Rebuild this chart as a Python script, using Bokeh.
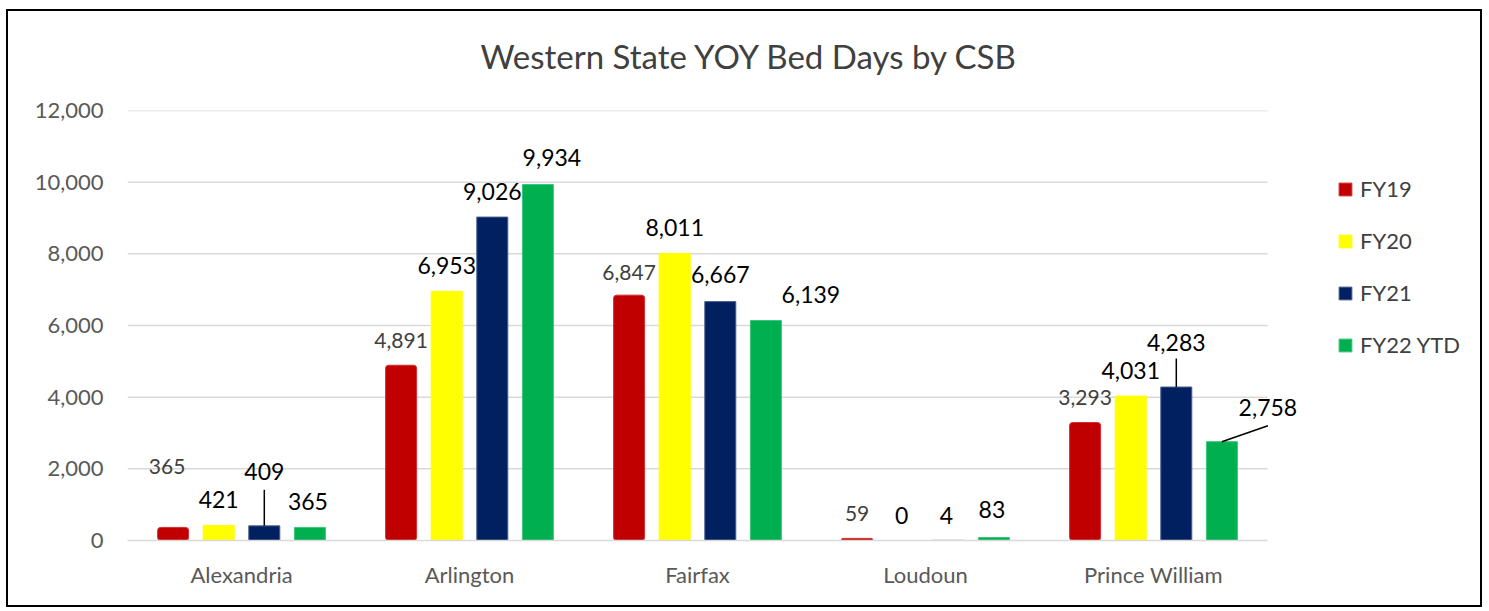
from bokeh.plotting import figure
from bokeh.models import (ColumnDataSource, Range1d, Legend, LegendItem,
                          NumeralTickFormatter, FixedTicker, Title)
from bokeh.transform import dodge
from bokeh.core.properties import value
from bokeh.embed import file_html
from bokeh.resources import INLINE

# ---------------- data ----------------
categories = ["Alexandria", "Arlington", "Fairfax", "Loudoun", "Prince William"]
series_names = ["FY19", "FY20", "FY21", "FY22 YTD"]
fy19 = [365, 4891, 6847, 59, 3293]
fy20 = [421, 6953, 8011, 0, 4031]
fy21 = [409, 9026, 6667, 4, 4283]
fy22 = [365, 9934, 6139, 83, 2758]
y_ticks = [0, 2000, 4000, 6000, 8000, 10000, 12000]
title_text = "Western State YOY Bed Days by CSB"

# ---------------- styles ----------------
colors = ["#C00000", "#FFFF00", "#002060", "#00B050"]
outline = ["#D03030", "#FFFF00", "#4A5F8F", "#3CC47A"]
dodges = [-0.3, -0.1, 0.1, 0.3]
bar_w = 0.136
# label pixel offsets (x, y), screen units (y down)
lab_dx = [[-6, 0, 0, 0, 0], [0, 0, 0, -1, 0], [0, 0, 0, -2, 0], [-2, 14, 45, -2, 46]]
lab_dy = [[-61, -25, -23, -25, -25], [-26, -26, -26, -25, -26],
          [-54, -26, -27, -25, -45], [-26, -27, -26, -28, -34]]
FONT = "Lato"

W, H = 1476, 598
MB_L, MB_R, MB_T, MB_B = 119, 0, 99, 69
frame_w = W - MB_L - MB_R
bars_px = 1140                      # width of the categorical band area
cat_px = bars_px / len(categories)
x_end = frame_w / cat_px
px_per_unit = (H - MB_T - MB_B) / 12000.0
cat_pos = [i + 0.5 for i in range(len(categories))]

p = figure(width=W, height=H, x_range=Range1d(0, x_end), y_range=Range1d(0, 12000),
           output_backend="svg", toolbar_location=None,
           min_border_left=MB_L, min_border_right=MB_R, min_border_top=MB_T, min_border_bottom=MB_B)
p.styles = {"border": "2px solid #000000", "margin-left": "6px", "margin-top": "9px"}
p.outline_line_color = None
p.title = None

# spacer (nearest the frame) then the real title above it
p.add_layout(Title(text=" ", text_font_size="1px", standoff=22), "above")
p.add_layout(Title(text=title_text, text_font=FONT, text_font_size="33px",
                   text_font_style="normal", text_color="#404040",
                   align="left", offset=353, standoff=20), "above")

p.xgrid.visible = False
p.ygrid.visible = False
p.yaxis.ticker = FixedTicker(ticks=y_ticks)
p.yaxis.formatter = NumeralTickFormatter(format="0,0")
p.yaxis.axis_line_color = None
p.yaxis.major_tick_line_color = None
p.yaxis.minor_tick_line_color = None
p.yaxis.major_label_standoff = 18
p.xaxis.ticker = FixedTicker(ticks=cat_pos)
p.xaxis.major_label_overrides = {pos: name for pos, name in zip(cat_pos, categories)}
p.xaxis.bounds = (0, len(categories))
p.xaxis.axis_line_color = "#D9D9D9"
p.xaxis.axis_line_width = 1.5
p.xaxis.major_tick_line_color = None
p.xaxis.minor_tick_line_color = None
p.xaxis.major_label_standoff = 14
for ax in (p.xaxis, p.yaxis):
    ax.major_label_text_font = FONT
    ax.major_label_text_font_size = "22px"
    ax.major_label_text_color = "#595959"

# horizontal gridlines limited to the category band area
grid_src = ColumnDataSource(dict(y=y_ticks[1:], x0=[0] * (len(y_ticks) - 1),
                                 x1=[len(categories)] * (len(y_ticks) - 1)))
p.segment(x0="x0", x1="x1", y0="y", y1="y", source=grid_src, line_color="#D9D9D9", line_width=1.5)

all_series = [fy19, fy20, fy21, fy22]
renderers = []
sources = []
for i, vals in enumerate(all_series):
    src = ColumnDataSource(dict(
        pos=cat_pos, val=vals,
        txt=[f"{v:,}" for v in vals],
        dx=lab_dx[i], dy=lab_dy[i]))
    sources.append(src)
    kw = dict(border_radius=3) if i == 0 else {}
    r = p.vbar(x=dodge("pos", dodges[i]), top="val", width=bar_w, bottom=0,
               source=src, fill_color=colors[i], line_color=outline[i], line_width=1, **kw)
    renderers.append(r)

for i, src in enumerate(sources):
    p.text(x=dodge("pos", dodges[i]), y="val", text="txt", source=src,
           x_offset="dx", y_offset="dy", text_align="center", text_baseline="middle",
           text_font=value(FONT),
           text_font_size="21px" if i == 0 else "23px",
           text_color="#404040" if i == 0 else "#000000")

# leader lines (bar top -> label)
lead_a = ColumnDataSource(dict(pos=[cat_pos[0], cat_pos[4]],
                               y1=[fy21[0], fy21[4]],
                               y0=[fy21[0] + 36 / px_per_unit, fy21[4] + 28.5 / px_per_unit]))
p.segment(x0=dodge("pos", 0.1), x1=dodge("pos", 0.1),
          y0="y0", y1="y1", source=lead_a, line_color="#000000", line_width=1.5)
lead_b = ColumnDataSource(dict(pos=[cat_pos[4]], y1=[fy22[4]],
                               y0=[fy22[4] + 16 / px_per_unit]))
p.segment(x0=dodge("pos", 0.3 + 46 / cat_px), x1=dodge("pos", 0.3),
          y0="y0", y1="y1", source=lead_b, line_color="#000000", line_width=1.5)

legend = Legend(items=[LegendItem(label=series_names[i], renderers=[renderers[i]]) for i in range(4)],
                location=(1210, 182), orientation="vertical")
legend.label_text_font = FONT
legend.label_text_font_size = "22px"
legend.label_text_color = "#404040"
legend.glyph_width = 16
legend.glyph_height = 16
legend.label_height = 20
legend.spacing = 25
legend.padding = 0
legend.margin = 0
legend.label_standoff = 7
legend.border_line_color = None
legend.background_fill_alpha = 0
p.add_layout(legend, "center")

open("out.html", "w").write(file_html(p, INLINE))
